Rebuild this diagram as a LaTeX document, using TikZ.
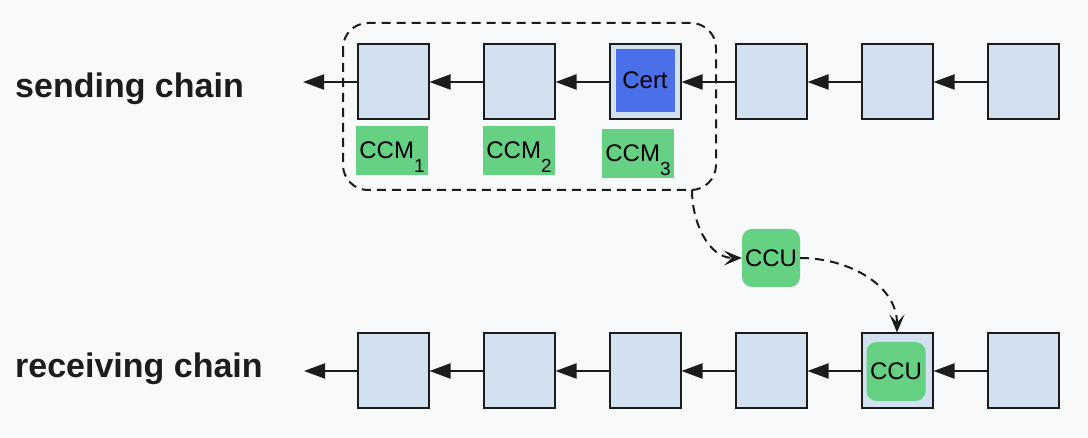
\documentclass[tikz,border=0pt]{standalone}
\usepackage{fontspec}
\setmainfont{Liberation Sans}
\usepackage{tikz}
\usetikzlibrary{arrows.meta}
\definecolor{blockblue}{HTML}{D1E1EF}
\definecolor{certblue}{HTML}{4A6FE9}
\definecolor{ccmgreen}{HTML}{66D183}
\definecolor{bggrey}{HTML}{F7F9FB}
\definecolor{ink}{HTML}{1C1C1C}
\newcommand{\ccmsub}[1]{\raisebox{-14pt}{\fontsize{19}{20}\selectfont #1}}

\begin{document}
\begin{tikzpicture}[x=1pt,y=1pt,
		block/.style={draw=ink,line width=2pt,fill=blockblue,minimum width=71pt,minimum height=75pt,inner sep=0pt},
		ccm/.style={fill=ccmgreen,minimum width=72pt,minimum height=49pt,inner sep=0pt,text depth=0pt,font=\fontsize{24}{28}\selectfont},
		ccu/.style={fill=ccmgreen,rounded corners=10pt,minimum size=58pt,inner sep=0pt,font=\fontsize{24}{28}\selectfont},
		link/.style={-{Triangle[length=21pt,width=15pt]},line width=2pt,ink},
		hop/.style={-{Stealth[length=18pt,width=15pt,inset=8pt]},line width=2pt,dash pattern=on 9pt off 6pt,ink},
		chain/.style={font=\fontsize{34}{40}\selectfont\bfseries,anchor=base west,inner sep=0pt,text=ink}]
		\fill[bggrey] (0,0) rectangle (1088,-438);
		\useasboundingbox (0,0) rectangle (1088,-438);
		\node[chain] (send) at (15,-97.7) {sending chain};
		\node[chain] (recv) at (15,-377.7) {receiving chain};
		\foreach \i in {1,...,6} {
			\node[block] (s\i) at ({393+126*(\i-1)},-82) {};
			\node[block] (r\i) at ({393+126*(\i-1)},-371) {};
		}
		\foreach \i/\j in {1/2,2/3,3/4,4/5,5/6} {
			\draw[link] (s\j) -- (s\i);
			\draw[link] (r\j) -- (r\i);
		}
		\coordinate (send end) at (303,-82);
		\coordinate (recv end) at (304,-371);
		\draw[link] (s1) -- (send end);
		\draw[link] (r1) -- (recv end);
		\node[fill=certblue,minimum width=59pt,minimum height=63pt,inner sep=0pt,font=\fontsize{24}{28}\selectfont] (cert) at (645,-80.5) {Cert};
		\node[ccm] (ccm1) at (392,-150.5) {CCM\ccmsub{1}};
		\node[ccm] (ccm2) at (519,-150.5) {CCM\ccmsub{2}};
		\node[ccm] (ccm3) at (638,-153.5) {CCM\ccmsub{3}};
		\draw[line width=2pt,dash pattern=on 9pt off 6pt,rounded corners=25pt,ink] (343,-23) rectangle (716,-190);
		\coordinate (batch out) at (692,-190);
		\node[ccu] (ccu) at (771,-258) {CCU};
		\node[ccu,minimum size=59pt] (ccu in) at (896,-371.5) {CCU};
		\draw[hop] (batch out) to[out=-90,in=180] (ccu.west);
		\draw[hop] (ccu.east) to[out=0,in=90] (r5.north);
	\end{tikzpicture}
\end{document}
